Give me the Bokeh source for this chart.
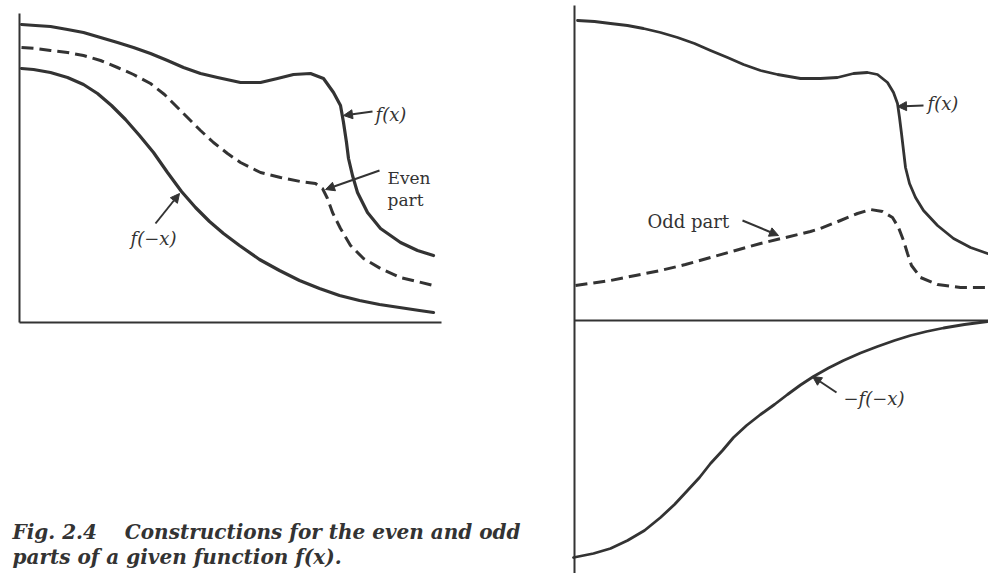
from bokeh.plotting import figure
from bokeh.models import Range1d, Arrow, NormalHead
from bokeh.core.properties import value
from bokeh.embed import file_html
from bokeh.resources import INLINE

# ---------------- data (panel units: x to the right of the vertical axis, y above the horizontal axis)
# Left panel: f(x), its even part and f(-x)
left_fx_x = [2, 16, 31, 48, 64, 81, 98, 114, 131, 148, 164, 181, 198, 221, 241, 258, 274, 291, 304, 314, 321,
             324, 327, 329, 333, 338, 348, 361, 381, 398, 414]
left_fx_y = [298, 297, 296, 293, 290, 285, 280, 275, 269, 262, 255, 249, 245, 240, 240, 244, 248, 249, 244, 230, 217,
             200, 180, 164, 147, 130, 110, 94, 80, 72, 67]
left_even_x = [2, 16, 31, 48, 64, 81, 98, 114, 131, 145, 158, 170, 181, 194, 208, 221, 241, 261, 281, 296, 303,
               308, 313, 321, 331, 344, 361, 381, 414]
left_even_y = [275, 274, 272, 270, 267, 262, 255, 248, 239, 228, 215, 203, 192, 180, 169, 160, 150, 145, 141, 139, 134,
               124, 110, 94, 77, 64, 54, 45, 37]
left_fneg_x = [2, 14, 31, 48, 64, 78, 92, 106, 120, 134, 148, 162, 176, 190, 204, 220, 240, 260, 280, 300, 320,
               340, 360, 380, 400, 414]
left_fneg_y = [254, 253, 250, 245, 238, 229, 217, 203, 187, 170, 150, 131, 115, 101, 89, 77, 63, 52, 42, 34, 27,
               22, 18, 15, 12, 10]
left_axis_top = 309
left_axis_right = 422

# Right panel: f(x), its odd part and -f(-x)
right_fx_x = [3, 20, 36, 53, 69, 86, 103, 120, 136, 153, 169, 186, 203, 226, 246, 263, 279, 293, 303, 313, 319,
              323, 325, 327, 329, 331, 335, 341, 349, 363, 379, 396, 413]
right_fx_y = [300, 299, 297, 295, 292, 288, 283, 277, 270, 263, 256, 250, 246, 242, 242, 243, 247, 248, 246, 238, 228,
              217, 203, 187, 170, 153, 137, 123, 110, 95, 82, 73, 67]
right_odd_x = [1, 36, 61, 86, 111, 136, 161, 186, 211, 236, 246, 266, 283, 296, 308, 318, 324, 329, 333, 337,
               346, 363, 386, 413]
right_odd_y = [35, 40, 45, 50, 56, 63, 70, 77, 83, 89, 92, 100, 107, 111, 109, 103, 93, 80, 67, 55,
               43, 36, 33, 33]
right_fneg_x = [-1, 19, 36, 53, 70, 86, 100, 113, 125, 136, 148, 159, 172, 186, 200, 213, 226, 239, 254, 269,
                286, 303, 320, 336, 352, 369, 390, 413]
right_fneg_y = [-237, -233, -228, -220, -210, -197, -184, -170, -157, -143, -130, -117, -105, -94, -84, -74, -64.5, -56,
                -47.5, -40, -32.5, -26, -20, -15, -11, -7.5, -4, -1]
right_axis_top = 315
right_axis_bottom = -253
right_axis_right = 414

# labels: (text, x, y) in panel units
left_labels = [("f(x)", 356, 208), ("f(−x)", 111, 84)]
left_even_label = [("Even", 368, 145), ("part", 368, 123)]
right_labels = [("f(x)", 353, 217), ("−f(−x)", 269, -78)]
right_odd_label = [("Odd part", 73, 99)]
# arrows: (x_start, y_start, x_end, y_end)
left_arrows = [(353, 211, 324, 207), (360, 152, 306, 133), (136, 99, 160, 129)]
right_arrows = [(349, 215, 323, 214), (168, 100, 204, 85), (262, -72, 238, -56)]

caption = ["Fig. 2.4\u00a0\u00a0\u00a0 Constructions for the even and odd",
           "parts of a given function f(x)."]
caption_x = -7
caption_y = [-209, -234]

# ---------------- page view (figure covers the whole window)
VIEW_X0, VIEW_X1, VIEW_Y0, VIEW_Y1 = 0, 988, 0, 573
LEFT_ORIGIN = (19, 322)
RIGHT_ORIGIN = (574, 320)

INK = "#333333"


def xr(o):
    return Range1d(VIEW_X0 - o[0], VIEW_X1 - o[0])


def yr(o):
    return Range1d(o[1] - VIEW_Y1, o[1] - VIEW_Y0)


p = figure(width=988, height=573, output_backend="svg", toolbar_location=None,
           x_range=Range1d(VIEW_X0, VIEW_X1), y_range=Range1d(VIEW_Y1, VIEW_Y0),
           x_axis_type=None, y_axis_type=None, min_border=0)
p.extra_x_ranges = {"L": xr(LEFT_ORIGIN), "R": xr(RIGHT_ORIGIN)}
p.extra_y_ranges = {"L": yr(LEFT_ORIGIN), "R": yr(RIGHT_ORIGIN)}
p.grid.visible = False
p.outline_line_color = None
p.background_fill_color = "white"
p.border_fill_color = "white"

L = dict(x_range_name="L", y_range_name="L")
R = dict(x_range_name="R", y_range_name="R")

# axes
p.line([0, 0], [left_axis_top, 0], line_color=INK, line_width=2, **L)
p.line([0, left_axis_right], [0, 0], line_color=INK, line_width=2, **L)
p.line([0, 0], [right_axis_top, right_axis_bottom], line_color=INK, line_width=2, **R)
p.line([0, right_axis_right], [0, 0], line_color=INK, line_width=2, **R)

# curves
solid = dict(line_color=INK, line_width=3.2, line_join="round", line_cap="round")
solid_r = dict(line_color=INK, line_width=2.8, line_join="round", line_cap="round")
dashed = dict(line_color=INK, line_width=3.0, line_dash="12 6", line_join="round")
p.line(left_fx_x, left_fx_y, **solid, **L)
p.line(left_fneg_x, left_fneg_y, **solid, **L)
p.line(left_even_x, left_even_y, **dashed, **L)
p.line(right_fx_x, right_fx_y, **solid_r, **R)
p.line(right_fneg_x, right_fneg_y, **solid_r, **R)
p.line(right_odd_x, right_odd_y, **dashed, **R)

serif = value("DejaVu Serif")


def labels(items, rng, style, size, baseline):
    p.text([t[1] for t in items], [t[2] for t in items], text=[t[0] for t in items],
           text_font=serif, text_font_size=size, text_font_style=style,
           text_color=INK, text_align="left", text_baseline=baseline, **rng)


labels(left_labels, L, "italic", "18px", "middle")
labels(left_even_label, L, "normal", "17px", "alphabetic")
labels(right_labels, R, "italic", "18px", "middle")
labels(right_odd_label, R, "normal", "18px", "alphabetic")


def arrows(items, name):
    for (x0, y0, x1, y1) in items:
        p.add_layout(Arrow(x_start=x0, y_start=y0, x_end=x1, y_end=y1, line_color=INK, line_width=2,
                           end=NormalHead(size=9, fill_color=INK, line_color=INK),
                           x_range_name=name, y_range_name=name))


arrows(left_arrows, "L")
arrows(right_arrows, "R")

p.text([caption_x, caption_x], caption_y, text=caption, text_font=serif, text_font_size="20px",
       text_font_style="bold italic", text_color=INK, text_align="left", text_baseline="middle", **L)

open("out.html", "w").write(file_html(p, INLINE))
